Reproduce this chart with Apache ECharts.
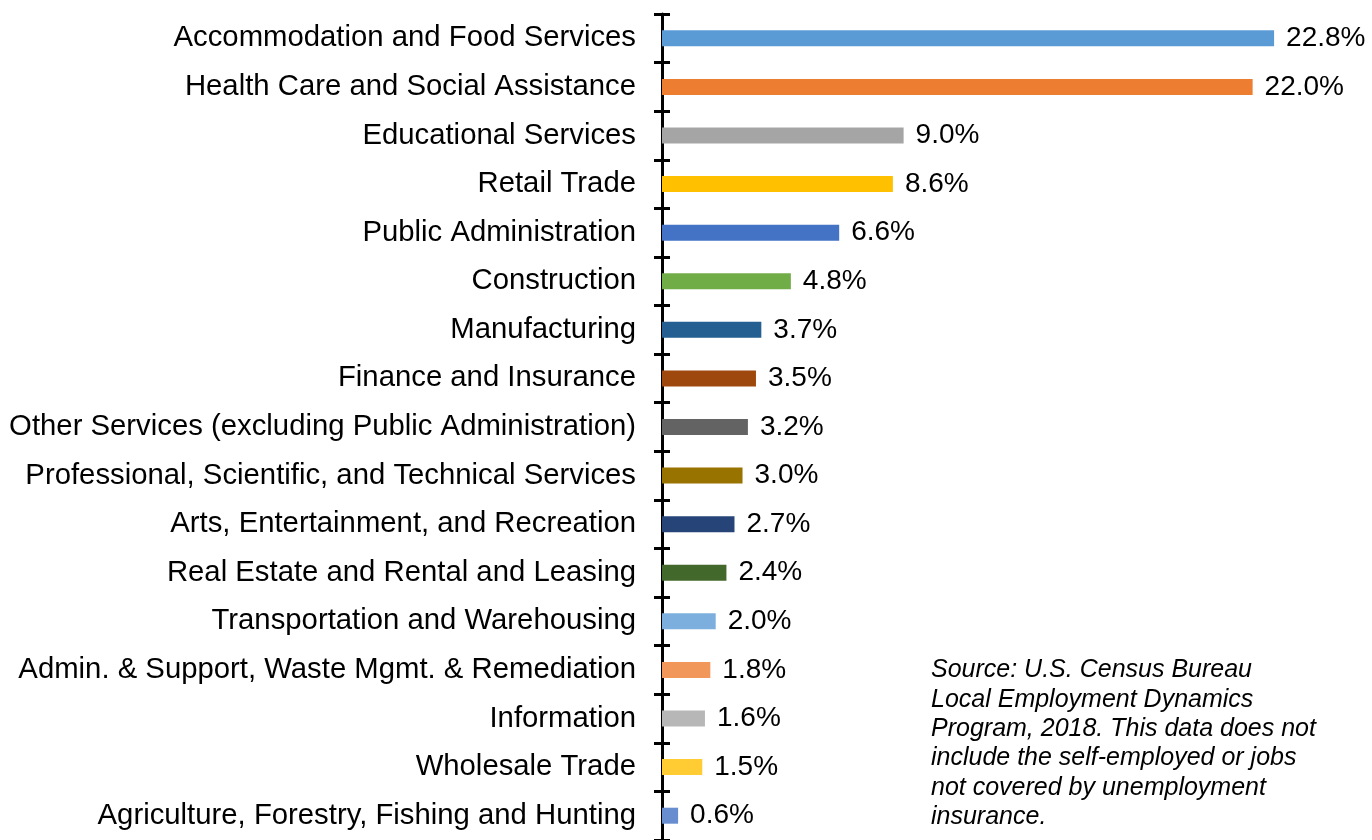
<!DOCTYPE html>
<html>
<head>
<meta charset="utf-8">
<script src="https://cdn.jsdelivr.net/npm/echarts@6/dist/echarts.min.js"></script>
<style>
  html, body { margin: 0; padding: 0; background: #fff; }
  #chart { width: 1372px; height: 840px; }
</style>
</head>
<body>
<div id="chart"></div>
<script>
const categories = [
  'Accommodation and Food Services',
  'Health Care and Social Assistance',
  'Educational Services',
  'Retail Trade',
  'Public Administration',
  'Construction',
  'Manufacturing',
  'Finance and Insurance',
  'Other Services (excluding Public Administration)',
  'Professional, Scientific, and Technical Services',
  'Arts, Entertainment, and Recreation',
  'Real Estate and Rental and Leasing',
  'Transportation and Warehousing',
  'Admin. & Support, Waste Mgmt. & Remediation',
  'Information',
  'Wholesale Trade',
  'Agriculture, Forestry, Fishing and Hunting'
]
const shares = [22.8, 22.0, 9.0, 8.6, 6.6, 4.8, 3.7, 3.5, 3.2, 3.0, 2.7, 2.4, 2.0, 1.8, 1.6, 1.5, 0.6]
const barColors = [
  '#5b9bd5', '#ed7d31', '#a5a5a5', '#ffc000', '#4472c4', '#70ad47',
  '#255e91', '#9e480e', '#636363', '#997300', '#264478', '#43682b',
  '#7cafdd', '#f1975a', '#b7b7b7', '#ffcd33', '#698ed0'
]
const sourceLines = [
  'Source: U.S. Census Bureau',
  'Local Employment Dynamics',
  'Program, 2018. This data does not',
  'include the self-employed or jobs',
  'not covered by unemployment',
  'insurance.'
]

const font = 'Liberation Sans, Arial, sans-serif'
const chart = echarts.init(document.getElementById('chart'))

chart.setOption({
  animation: false,
  grid: {
    left: 662,
    right: 12,
    top: 14,
    bottom: 0,
    containLabel: false
  },
  xAxis: {
    type: 'value',
    min: 0,
    max: 26,
    show: false
  },
  yAxis: [{
    type: 'category',
    data: categories,
    inverse: true,
    axisLine: { show: true, lineStyle: { color: '#000', width: 3 } },
    axisTick: { show: true, length: 8, lineStyle: { color: '#000', width: 3 } },
    axisLabel: {
      margin: 26,
      fontSize: 29.3,
      fontFamily: font,
      color: '#000',
      padding: [5, 0, 0, 0]
    },
    splitLine: { show: false }
  }, {
    // second axis on the same line, only for the inward tick halves
    type: 'category',
    data: categories,
    inverse: true,
    position: 'left',
    offset: 0,
    axisLine: { show: false },
    axisTick: { show: true, inside: true, length: 8, lineStyle: { color: '#000', width: 3 } },
    axisLabel: { show: false },
    splitLine: { show: false }
  }],
  series: [{
    type: 'bar',
    data: shares,
    barWidth: 16,
    itemStyle: {
      color: p => barColors[p.dataIndex]
    },
    label: {
      show: true,
      position: 'right',
      distance: 12,
      fontSize: 28,
      fontFamily: font,
      color: '#000',
      padding: [5, 0, 0, 0],
      formatter: p => p.value.toFixed(1) + '%'
    }
  }],
  graphic: sourceLines.map((t, i) => ({
    type: 'text',
    left: 931,
    top: 658 + i * 29.3,
    style: {
      text: t,
      font: 'italic 25px ' + font,
      fill: '#000'
    }
  }))
})
</script>
</body>
</html>
